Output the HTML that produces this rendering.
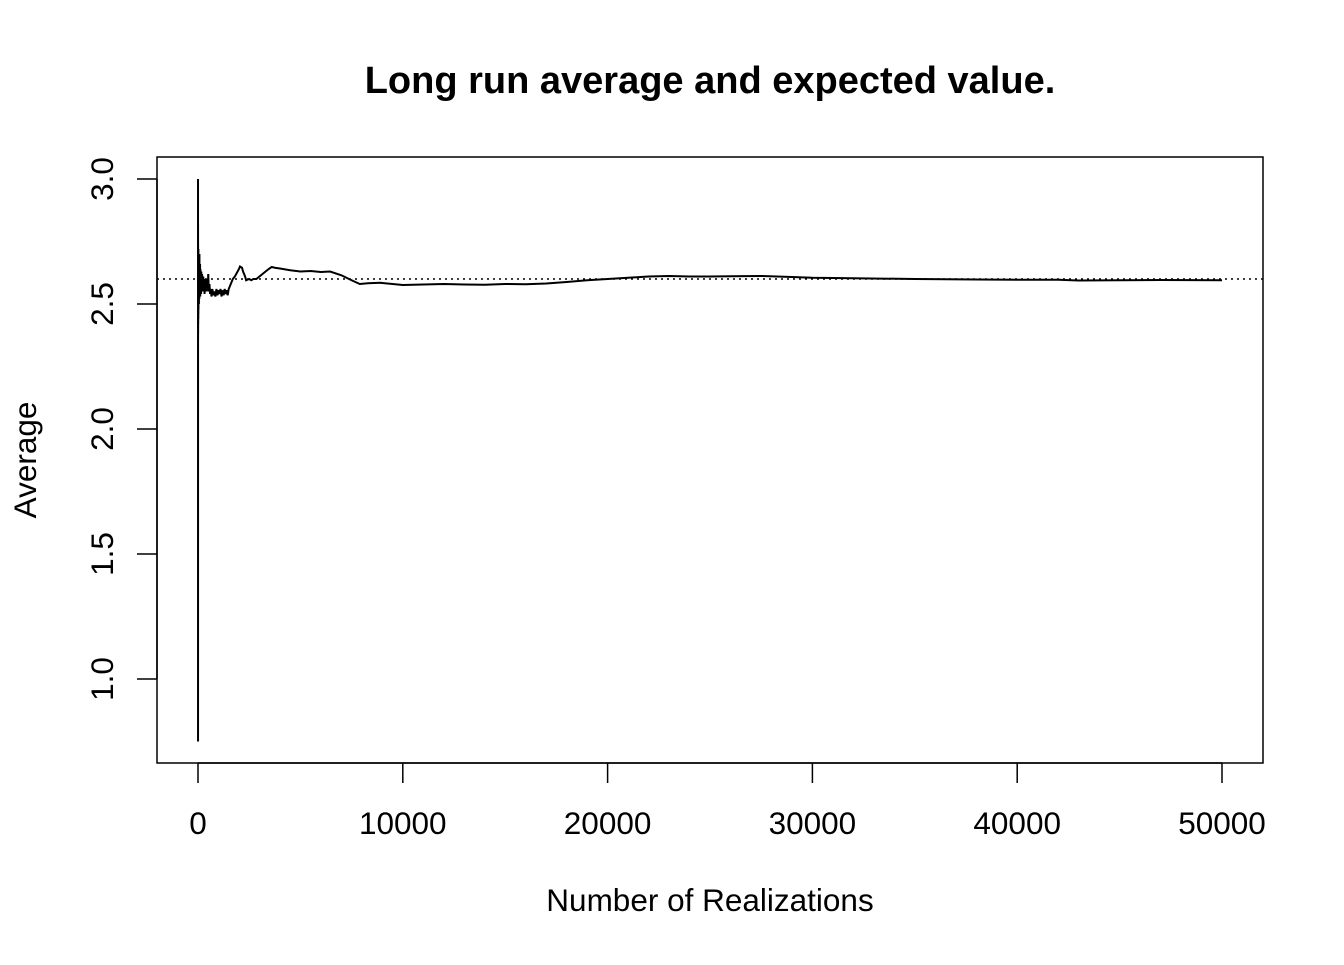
<!DOCTYPE html>
<html><head><meta charset="utf-8"><style>
body{margin:0;background:#fff;}
svg text{font-family:"Liberation Sans",Arial,sans-serif;fill:#000;}
</style></head><body>
<svg id="chart" width="1344" height="960">
<rect x="0" y="0" width="1344" height="960" fill="#fff"/>
<text x="710" y="93" font-size="38" font-weight="bold" text-anchor="middle">Long run average and expected value.</text>
<rect x="157" y="157" width="1106" height="606" fill="none" stroke="#000" stroke-width="1.5"/>
<g id="xaxis"></g>
<g id="yaxis"></g>
<text x="710" y="911" font-size="31.5" text-anchor="middle">Number of Realizations</text>
<text transform="translate(36,460) rotate(-90)" font-size="31.5" text-anchor="middle">Average</text>
<g id="marks"></g>
</svg>
<script>
const xTicks=[0,10000,20000,30000,40000,50000];
const yTicks=[1.0,1.5,2.0,2.5,3.0];
const expected=2.6;
const seriesX=[1,2,3,4,5,6,8,10,12,14,16,18,20,23,25,28,30,35,40,45,50,55,60,65,70,75,80,90,100,110,120,130,140,150,160,170,180,190,200,215,230,245,260,280,300,320,350,375,400,425,450,475,500,530,560,590,620,660,700,750,800,850,900,950,1000,1050,1100,1150,1200,1250,1300,1350,1400,1450,1500,1600,1700,1800,1900,2000,2050,2150,2200,2300,2350,2500,2600,2700,2850,3000,3150,3300,3450,3600,3750,4000,4500,5000,5500,6000,6450,7000,7500,7900,8300,8900,10000,11000,12000,13000,14000,15000,16000,17000,18000,19000,20000,21000,22000,23000,24000,25000,26000,27500,29000,30000,32000,35000,38000,40000,42000,43000,45000,47000,50000];
const seriesY=[3.0,0.75,2.82,2.36,2.74,2.38,2.70,2.42,2.68,2.44,2.66,2.46,2.72,2.48,2.70,2.50,2.64,2.52,2.69,2.50,2.64,2.53,2.66,2.52,2.70,2.55,2.64,2.54,2.66,2.53,2.64,2.55,2.62,2.54,2.63,2.55,2.61,2.55,2.62,2.56,2.60,2.55,2.61,2.56,2.60,2.54,2.59,2.56,2.60,2.55,2.59,2.56,2.62,2.55,2.58,2.54,2.56,2.53,2.56,2.535,2.55,2.53,2.56,2.535,2.555,2.54,2.56,2.53,2.555,2.535,2.56,2.54,2.555,2.535,2.56,2.58,2.6,2.61,2.625,2.64,2.65,2.645,2.63,2.61,2.595,2.6,2.595,2.60,2.60,2.61,2.62,2.63,2.64,2.648,2.645,2.642,2.635,2.63,2.632,2.628,2.63,2.615,2.595,2.58,2.583,2.585,2.576,2.578,2.58,2.578,2.577,2.58,2.579,2.582,2.588,2.595,2.60,2.605,2.61,2.612,2.61,2.61,2.611,2.612,2.608,2.605,2.603,2.60,2.598,2.597,2.597,2.594,2.595,2.596,2.595];
const X=v=>198+v*0.02048, Y=v=>179+(3-v)*250;
const ns="http://www.w3.org/2000/svg";
function mk(t,a,p){const e=document.createElementNS(ns,t);for(const k in a)e.setAttribute(k,a[k]);p.appendChild(e);return e;}
const xa=document.getElementById('xaxis'), ya=document.getElementById('yaxis'), m=document.getElementById('marks');
mk('line',{x1:X(0),x2:X(50000),y1:763,y2:763,stroke:'#000','stroke-width':1.5},xa);
xTicks.forEach(t=>{
  const l=mk('line',{x1:X(t),x2:X(t),y1:763,y2:783,stroke:'#000','stroke-width':1.5},xa);
  
  
  const tx=mk('text',{x:X(t),y:834,'font-size':31.5,'text-anchor':'middle'},xa);tx.textContent=String(t);
  
  
});
mk('line',{x1:157,x2:157,y1:Y(1),y2:Y(3),stroke:'#000','stroke-width':1.5},ya);
yTicks.forEach(t=>{
  const l=mk('line',{x1:137,x2:157,y1:Y(t),y2:Y(t),stroke:'#000','stroke-width':1.5},ya);
  
  
  const tx=mk('text',{transform:`translate(113,${Y(t)}) rotate(-90)`,'font-size':31.5,'text-anchor':'middle'},ya);tx.textContent=t.toFixed(1);
  
  
});
const h=mk('line',{x1:157,x2:1263,y1:Y(expected),y2:Y(expected),stroke:'#000','stroke-width':1.5,'stroke-dasharray':'2,4'},m);


const p=mk('polyline',{points:seriesX.map((x,i)=>X(x).toFixed(2)+','+Y(seriesY[i]).toFixed(2)).join(' '),fill:'none',stroke:'#000','stroke-width':2},m);


</script>
</body></html>
